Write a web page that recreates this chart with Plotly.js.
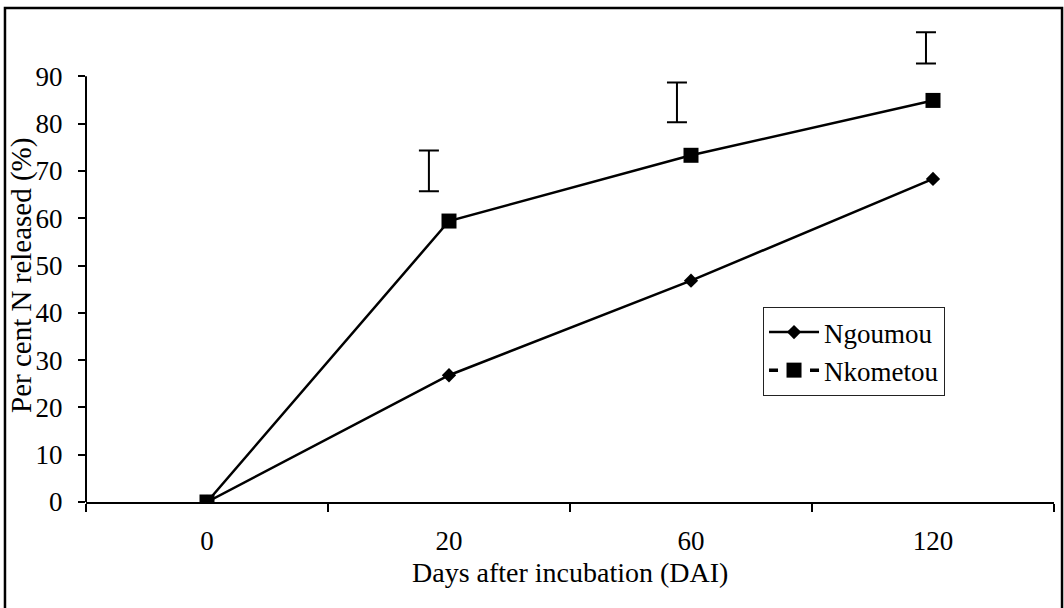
<!DOCTYPE html>
<html>
<head>
<meta charset="utf-8">
<script src="https://cdn.plot.ly/plotly-3.0.1.min.js"></script>
<style>
  html, body { margin: 0; padding: 0; background: #fff; }
  #chart { width: 1064px; height: 608px; }
</style>
</head>
<body>
<div id="chart"></div>
<script>
// ---- data ----
const days = ['0', '20', '60', '120'];
const ngoumou = [0, 26.8, 46.8, 68.3];
const nkometou = [0, 59.4, 73.3, 84.9];
const barDays = ['20', '60', '120'];
const barCenter = [70.0, 84.5, 96.0];
const barHalf = [4.3, 4.2, 3.3];
const yTicks = [0, 10, 20, 30, 40, 50, 60, 70, 80, 90];
const xTitle = 'Days after incubation (DAI)';
const yTitle = 'Per cent N released (%)';

// ---- layout constants ----
const barShift = [-0.083, -0.058, -0.029]; // bars drawn slightly left of each point
const FONT = '"Liberation Serif", "Times New Roman", serif';

const barX = barDays.map((d, i) => days.indexOf(d) + barShift[i]);

const traces = [
  {
    name: 'Ngoumou', x: days, y: ngoumou, type: 'scatter', mode: 'lines+markers',
    line: { color: '#000', width: 2.5 },
    marker: { symbol: 'diamond', size: 11, color: '#000' }
  },
  {
    name: 'Nkometou', x: days, y: nkometou, type: 'scatter', mode: 'lines+markers',
    line: { color: '#000', width: 2.5 },
    marker: { symbol: 'square', size: 15, color: '#000' },
    showlegend: false
  },
  {
    name: 'Nkometou', x: [null], y: [null], type: 'scatter', mode: 'lines+markers',
    line: { color: '#000', width: 3.5, dash: '9px,32px' },
    marker: { symbol: 'square', size: 15, color: '#000' },
    hoverinfo: 'skip'
  },
  {
    name: 'LSD', x: barX, y: barCenter, xaxis: 'x2', type: 'scatter', mode: 'markers',
    marker: { size: 1, color: 'rgba(0,0,0,0)' },
    error_y: { type: 'data', array: barHalf, visible: true, color: '#000', thickness: 2, width: 10 },
    showlegend: false, hoverinfo: 'skip'
  }
];

const layout = {
  width: 1064, height: 608,
  margin: { l: 86, r: 10, t: 29, b: 106 },
  paper_bgcolor: '#fff', plot_bgcolor: '#fff',
  font: { family: FONT, color: '#000', size: 27 },
  showlegend: true,
  xaxis: {
    type: 'category', categoryorder: 'array', categoryarray: days,
    range: [-0.5, 3.5], fixedrange: true,
    showline: true, linecolor: '#000', linewidth: 2,
    ticks: 'outside', tickson: 'boundaries', ticklen: 8, tickwidth: 2, tickcolor: '#000',
    ticklabelstandoff: 14,
    showgrid: false, zeroline: false,
    tickfont: { family: FONT, size: 27, color: '#000' }
  },
  xaxis2: {
    overlaying: 'x', anchor: 'y', range: [-0.5, 3.5], visible: false, fixedrange: true
  },
  yaxis: {
    range: [0, 100], fixedrange: true,
    tickvals: yTicks, ticktext: yTicks.map(String),
    showline: false, ticks: 'outside', ticklen: 7, tickwidth: 2, tickcolor: '#000',
    ticklabelstandoff: 10,
    showgrid: false, zeroline: false,
    tickfont: { family: FONT, size: 27, color: '#000' }
  },
  annotations: [
    { text: xTitle, xref: 'paper', yref: 'paper', x: 0.5, y: -0.148, xanchor: 'center', yanchor: 'middle',
      showarrow: false, font: { family: FONT, size: 28, color: '#000' } },
    { text: yTitle, xref: 'paper', yref: 'paper', x: -0.0661, y: 0.478, xanchor: 'center', yanchor: 'middle',
      textangle: -90, showarrow: false, font: { family: FONT, size: 29, color: '#000' } }
  ],
  legend: {
    x: 0.6994, y: 0.4123, xanchor: 'left', yanchor: 'top',
    bgcolor: '#fff', bordercolor: '#222', borderwidth: 1,
    font: { family: FONT, size: 27, color: '#000' },
    itemwidth: 50
  },
  shapes: [
    // y axis line from 0 to 90
    { type: 'line', xref: 'paper', yref: 'y', x0: 0, x1: 0, y0: 0, y1: 90,
      line: { color: '#000', width: 2 } },
    // outer frame of the figure
    { type: 'rect', xref: 'paper', yref: 'paper', x0: -0.0837, x1: 1.0083, y0: -0.3, y1: 1.0444,
      line: { color: '#000', width: 2.5 }, fillcolor: 'rgba(0,0,0,0)', layer: 'below' }
  ]
};

Plotly.newPlot('chart', traces, layout, { staticPlot: true, displayModeBar: false });
</script>
</body>
</html>
